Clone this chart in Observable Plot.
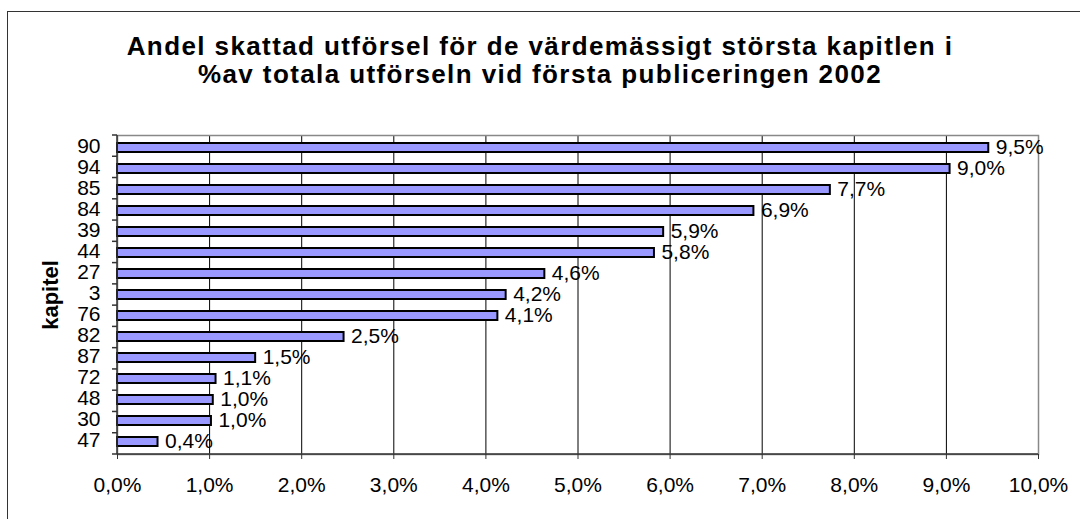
<!DOCTYPE html>
<html>
<head>
<meta charset="utf-8">
<script src="https://cdn.jsdelivr.net/npm/d3@7"></script>
<script src="https://cdn.jsdelivr.net/npm/@observablehq/plot@0.6"></script>
<style>
  html, body { margin: 0; padding: 0; background: #fff; width: 1080px; height: 519px; overflow: hidden; }
  #frame { position: absolute; left: 7px; top: 11px; width: 1200px; height: 700px; border: 1.5px solid #333; box-sizing: border-box; }
  #title { position: absolute; left: 0; top: 32px; width: 1080px; text-align: center;
           font-family: "Liberation Sans", Arial, sans-serif; font-weight: bold; font-size: 26px; letter-spacing: 1.4px; line-height: 28px; color: #000; }
  #chart { position: absolute; left: 0; top: 100px; }
</style>
</head>
<body>
<div id="frame"></div>
<div id="title"></div>
<div id="chart"></div>
<script>
const titleLines = [
  "Andel skattad utförsel för de värdemässigt största kapitlen i",
  "%av totala utförseln vid första publiceringen 2002"
];
const yAxisLabel = "kapitel";
const categories = ["90","94","85","84","39","44","27","3","76","82","87","72","48","30","47"];
const values = [9.46, 9.04, 7.74, 6.91, 5.93, 5.83, 4.64, 4.22, 4.13, 2.46, 1.50, 1.07, 1.04, 1.02, 0.44];
const xTicks = [0,1,2,3,4,5,6,7,8,9,10];

document.getElementById("title").innerHTML = titleLines.map(t => `<div>${t}</div>`).join("");

const fmt = v => v.toFixed(1).replace(".", ",") + "%";
const data = categories.map((c, i) => ({cat: c, value: values[i]}));

// custom axis lines and between-category ticks (Excel style)
function axisLines(index, scales, vals, dims) {
  const {width, height, marginTop, marginBottom, marginLeft, marginRight} = dims;
  const g = d3.create("svg:g");
  const n = categories.length;
  const step = (height - marginTop - marginBottom) / n;
  for (let i = 0; i <= n; i++) {
    const y = marginTop + i * step;
    g.append("line").attr("x1", marginLeft - 5).attr("x2", marginLeft)
      .attr("y1", y).attr("y2", y).attr("stroke", "#333").attr("stroke-width", 1.5);
  }
  g.append("line").attr("x1", marginLeft).attr("x2", marginLeft)
    .attr("y1", marginTop).attr("y2", height - marginBottom).attr("stroke", "#333").attr("stroke-width", 1.5);
  g.append("line").attr("x1", marginLeft).attr("x2", width - marginRight)
    .attr("y1", height - marginBottom).attr("y2", height - marginBottom).attr("stroke", "#333").attr("stroke-width", 1.5);
  return g.node();
}

const chart = Plot.plot({
  width: 1080,
  height: 419,
  marginTop: 35,
  marginRight: 42,
  marginBottom: 65,
  marginLeft: 117,
  style: {fontFamily: "'Liberation Sans', Arial, sans-serif", fontSize: "21px", color: "#000", background: "transparent", overflow: "visible"},
  x: {domain: [0, 10], ticks: xTicks, tickFormat: fmt, label: null},
  y: {domain: categories, paddingInner: 0.58, paddingOuter: 0.29, label: null},
  marks: [
    Plot.ruleX(xTicks, {stroke: "#000", strokeWidth: 1}),
    Plot.frame({stroke: "#888", strokeWidth: 1.5}),
    Plot.barX(data, {x: "value", y: "cat", fill: "#9999ff", stroke: "#000", strokeWidth: 2}),
    Plot.text(data, {x: "value", y: "cat", text: d => fmt(d.value), textAnchor: "start", dx: 7, dy: -1, fill: "#000", fontSize: 21}),
    axisLines,
    Plot.axisX({ticks: xTicks, tickFormat: fmt, tickSize: 5, tickPadding: 18, label: null, stroke: "#333", fontSize: 21}),
    Plot.axisY({tickSize: 0, tickPadding: 17, label: null, dy: -2, fontSize: 21}),
    Plot.text([yAxisLabel], {text: d => d, frameAnchor: "left", textAnchor: "middle", rotate: -90, dx: -67, fontWeight: "bold", fill: "#000", fontSize: 22})
  ]
});
document.getElementById("chart").appendChild(chart);
</script>
</body>
</html>
